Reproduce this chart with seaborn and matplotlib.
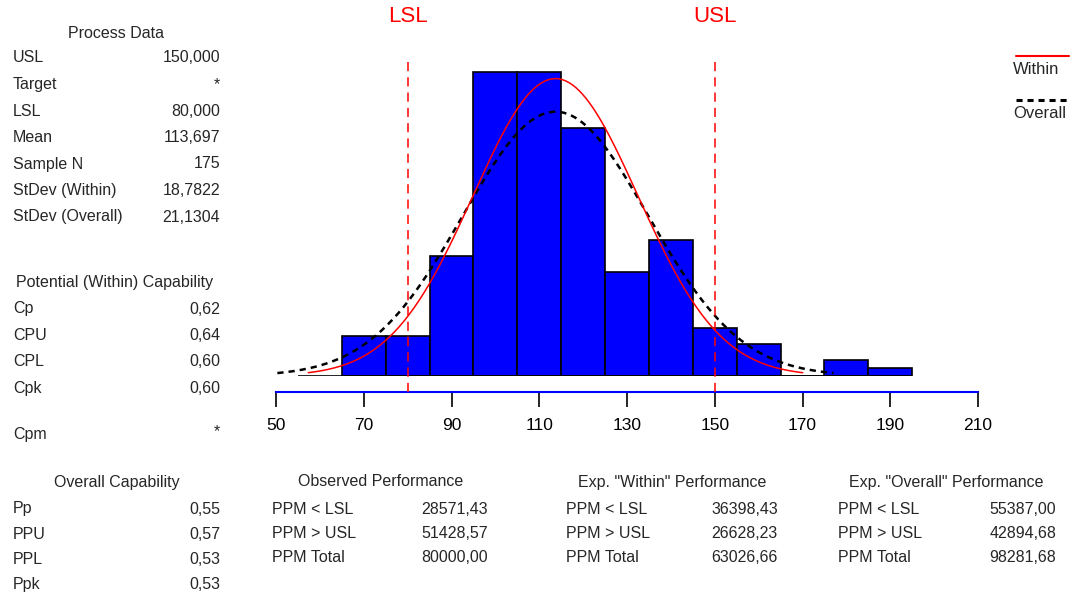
import numpy as np
import pandas as pd
import matplotlib
matplotlib.use("Agg")
import matplotlib.pyplot as plt
from matplotlib.lines import Line2D
import seaborn as sns

# ---------------- data ----------------
bin_edges = [65, 75, 85, 95, 105, 115, 125, 135, 145, 155, 165, 175, 185, 195]
bin_counts = [5, 5, 15, 38, 38, 31, 13, 17, 6, 4, 0, 2, 1]
lsl = 80.0
usl = 150.0
mean = 113.697
sd_within = 18.7822
sd_overall = 21.1304
n_sample = 175
bin_width = 10
x_ticks = [50, 70, 90, 110, 130, 150, 170, 190, 210]

process_labels = ["USL", "Target", "LSL", "Mean", "Sample N", "StDev (Within)", "StDev (Overall)"]
process_values = ["150,000", "*", "80,000", "113,697", "175", "18,7822", "21,1304"]
within_labels = ["Cp", "CPU", "CPL", "Cpk"]
within_values = ["0,62", "0,64", "0,60", "0,60"]
cpm_label, cpm_value = "Cpm", "*"
overall_labels = ["Pp", "PPU", "PPL", "Ppk"]
overall_values = ["0,55", "0,57", "0,53", "0,53"]
perf_labels = ["PPM < LSL", "PPM > USL", "PPM Total"]
observed_values = ["28571,43", "51428,57", "80000,00"]
exp_within_values = ["36398,43", "26628,23", "63026,66"]
exp_overall_values = ["55387,00", "42894,68", "98281,68"]

# ---------------- style ----------------
sns.set_style("white")
plt.rcParams["font.family"] = ["Liberation Sans", "DejaVu Sans"]

W, H = 1082, 602
fig = plt.figure(figsize=(W / 100, H / 100), dpi=100)
fig.patch.set_facecolor("white")


def fx(x):
    return x / W


def fy(y):
    return 1 - y / H


ax = fig.add_axes([fx(276), fy(376), 702 / W, 320 / H])
ax.set_facecolor("white")

# histogram from binned data
centers = [(bin_edges[i] + bin_edges[i + 1]) / 2 for i in range(len(bin_counts))]
hist_df = pd.DataFrame({"x": centers, "w": bin_counts})
sns.histplot(data=hist_df, x="x", weights="w", bins=bin_edges, ax=ax,
             color="#0000FF", alpha=1.0, edgecolor="black", linewidth=1.2, zorder=2)
ax.hlines(0, 55, 195, color="black", linewidth=1.2, zorder=3)


# normal curves scaled to counts
def normal_curve(sd):
    xs = np.linspace(mean - 3 * sd, mean + 3 * sd, 300)
    ys = n_sample * bin_width / (sd * np.sqrt(2 * np.pi)) * np.exp(-0.5 * ((xs - mean) / sd) ** 2)
    return pd.DataFrame({"x": xs, "y": ys})


ov = normal_curve(sd_overall)
wi = normal_curve(sd_within)
sns.lineplot(data=ov, x="x", y="y", ax=ax, color="black", linewidth=1.8,
             linestyle=(0, (2.5, 2)), zorder=4)
sns.lineplot(data=wi, x="x", y="y", ax=ax, color="#FF0000", linewidth=1.1, zorder=5)

ax.set_xlim(50, 210)
ax.set_ylim(0, 40)

# spec limits
for v, lab in [(lsl, "LSL"), (usl, "USL")]:
    ax.axvline(v, ymin=-16 / 320, ymax=(376 - 60) / 320, color="#FF0000",
               linewidth=1.1, linestyle=(0, (6, 4)), clip_on=False, zorder=6)
    ax.annotate(lab, xy=(v, 0), xycoords=("data", "figure fraction"),
                xytext=(v, fy(16)), textcoords=("data", "figure fraction"),
                color="#FF0000", fontsize=16, ha="center", va="center")

ax.set_xticks(x_ticks)
ax.set_xticklabels([str(t) for t in x_ticks])
ax.set_yticks([])
ax.set_xlabel("")
ax.set_ylabel("")
for s in ["top", "left", "right"]:
    ax.spines[s].set_visible(False)
ax.spines["bottom"].set_position(("outward", 16 * 0.72))
ax.spines["bottom"].set_color("#0000FF")
ax.spines["bottom"].set_linewidth(1.5)
ax.tick_params(axis="x", direction="out", length=11, width=1.2, color="black",
               pad=8, bottom=True, labelsize=12.5, labelcolor="black")

# legend drawn manually at the right
fig.add_artist(Line2D([fx(1016), fx(1069)], [fy(56), fy(56)], color="#FF0000", linewidth=1.5))
fig.text(fx(1013), fy(69), "Within", fontsize=12, ha="left", va="center")
fig.add_artist(Line2D([fx(1016), fx(1069)], [fy(100), fy(100)], color="black", linewidth=2.2,
                      linestyle=(0, (2, 1.6))))
fig.text(fx(1013), fy(113), "Overall", fontsize=12, ha="left", va="center")

FS = 11.5


def tx(x, y, s, ha="left"):
    fig.text(fx(x), fy(y), s, fontsize=FS, ha=ha, va="center")


# left panel: process data
tx(116, 33, "Process Data", ha="center")
for i, (l, v) in enumerate(zip(process_labels, process_values)):
    y = 58 + i * 26.5
    tx(13, y, l)
    tx(220, y, v, ha="right")

tx(115, 283, "Potential (Within) Capability", ha="center")
for i, (l, v) in enumerate(zip(within_labels, within_values)):
    y = 309 + i * 26.5
    tx(13, y, l)
    tx(220, y, v, ha="right")
tx(13, 435, cpm_label)
tx(220, 432, cpm_value, ha="right")

tx(117, 482, "Overall Capability", ha="center")
for i, (l, v) in enumerate(zip(overall_labels, overall_values)):
    y = 509 + i * 25.3
    tx(13, y, l)
    tx(220, y, v, ha="right")

# performance tables
tables = [
    (381, 272, 488, "Observed Performance", observed_values),
    (672, 566, 778, 'Exp. "Within" Performance', exp_within_values),
    (946, 838, 1056, 'Exp. "Overall" Performance', exp_overall_values),
]
for cx, lx, rx, title, vals in tables:
    tx(cx, 482, title, ha="center")
    for i, (l, v) in enumerate(zip(perf_labels, vals)):
        y = 509 + i * 24.5
        tx(lx, y, l)
        tx(rx, y, v, ha="right")

fig.savefig("out.png", dpi=100, facecolor="white")
